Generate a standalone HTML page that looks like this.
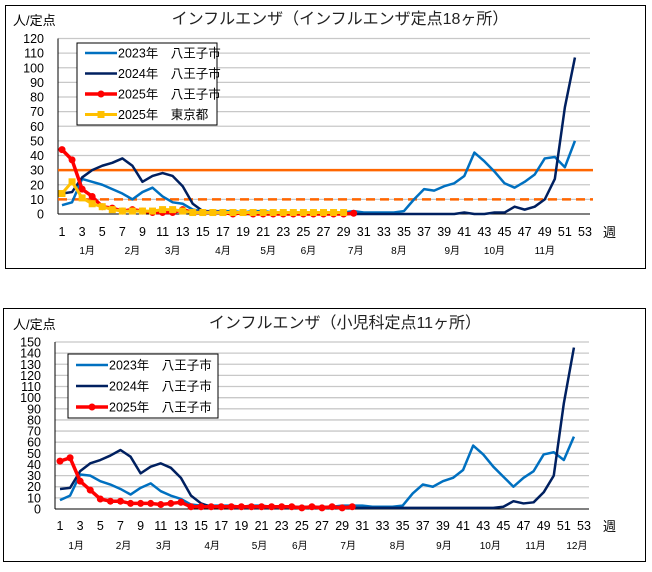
<!DOCTYPE html>
<html><head><meta charset="utf-8">
<style>
body{margin:0;background:#fff;width:652px;height:567px;overflow:hidden;font-family:"Liberation Sans","Noto Sans CJK JP",sans-serif;}
svg text{font-family:"Liberation Sans","Noto Sans CJK JP",sans-serif;}
</style></head>
<body>
<svg id="svg" width="652" height="567" xmlns="http://www.w3.org/2000/svg"></svg>
<script>
const weeks = Array.from({length:52},(_,i)=>i+1);
const weekTicks = [1,3,5,7,9,11,13,15,17,19,21,23,25,27,29,31,33,35,37,39,41,43,45,47,49,51,53];
const top2023 = [6,8,24,22,20,17,14,10,15,18,12,8,7,3,2,2,2,2,1,2,2,1,1,1,1,1,1,1,1,2,1,1,1,1,2,10,17,16,19,21,26,42,36,29,21,18,22,27,38,39,32,50];
const top2024 = [14,15,25,30,33,35,38,33,22,26,28,26,19,7,2,1,1,1,0,0,0,0,0,0,0,0,0,0,0,0,0,0,0,0,0,0,0,0,0,0,1,0,0,1,1,5,3,5,10,24,73,107];
const top2025 = [44,37,17,12,5,4,2,3,2,1,1,1,3,1,1,1,1,0,1,0,0,0,0,0,0,0,0,0,0,0.5];
const topTokyo = [14,22,11,7,5,3,2,2,2,2,3,3,2,1,1,1,1,1,1,1,1,1,1,1,1,1,1,1,1];
const bot2023 = [8,12,31,30,25,22,18,13,19,23,16,12,9,4,3,3,3,3,2,3,3,2,2,2,2,2,2,2,3,3,3,2,2,2,3,14,22,20,25,28,35,57,49,38,29,20,28,34,49,51,44,65];
const bot2024 = [18,19,34,41,44,48,53,47,32,38,41,37,28,12,5,2,2,1,1,1,1,1,1,1,1,1,1,1,1,1,1,1,1,1,1,1,1,1,1,1,1,1,1,1,2,7,5,6,15,30,95,145];
const bot2025 = [43,46,25,17,9,7,7,5,5,5,4,5,6,2,2,2,2,2,2,2,2,2,2,2,1,2,1,2,1,2];
const topMonths = ["1月","2月","3月","4月","5月","6月","7月","8月","9月","10月","11月"];
const topMonthWeeks = [3.5,8,12,17,21.5,25.5,30.2,34.5,39.8,44,49];
const botMonths = ["1月","2月","3月","4月","5月","6月","7月","8月","9月","10月","11月","12月"];
const botMonthWeeks = [2.6,7.3,11.3,16.1,20.8,24.8,29.6,34.5,39.1,43.7,48.2,52.3];

const NS="http://www.w3.org/2000/svg";
const svg=document.getElementById('svg');
function mk(tag,attrs,parent,txt){const e=document.createElementNS(NS,tag);for(const k in attrs)e.setAttribute(k,attrs[k]);if(txt!==undefined)e.textContent=txt;(parent||svg).appendChild(e);return e;}

function chart(cfg){
  const g=mk('g',{});
  
  
  const fr=mk('rect',{x:cfg.box[0],y:cfg.box[1],width:cfg.box[2],height:cfg.box[3],fill:'#fff',stroke:'#000','stroke-width':1},g);
  
  const X=w=>cfg.x1+(w-1)*(cfg.x53-cfg.x1)/52;
  const Y=v=>cfg.y0-(v/cfg.ymax)*(cfg.y0-cfg.ytop);
  for(let v=cfg.ystep;v<=cfg.ymax;v+=cfg.ystep){
    const l=mk('line',{x1:cfg.ax,x2:cfg.xr,y1:Y(v),y2:Y(v),stroke:'#c8c8c8','stroke-width':1.3},g);
    
  }
  for(let v=0;v<=cfg.ymax;v+=cfg.ystep){
    const t=mk('text',{x:cfg.ax-14,y:Y(v)+4.5,'text-anchor':'end','font-size':12.5,fill:'#000'},g,String(v));
    
  }
  mk('line',{x1:cfg.ax,x2:cfg.ax,y1:cfg.ytop,y2:cfg.y0,stroke:'#000'},g);
  mk('line',{x1:cfg.ax,x2:cfg.xr,y1:cfg.y0,y2:cfg.y0,stroke:'#000'},g);
  weekTicks.forEach(w=>{
    const t=mk('text',{x:X(w),y:cfg.tickY,'text-anchor':'middle','font-size':12.5},g,String(w));
    
  });
  cfg.months.forEach((m,i)=>{
    const t=mk('text',{x:X(cfg.monthWeeks[i]),y:cfg.monthY,'text-anchor':'middle','font-size':10},g,m);
    
  });
  (cfg.thresholds||[]).forEach(th=>{
    const l=mk('line',{x1:cfg.ax,x2:cfg.xr+3,y1:Y(th.v),y2:Y(th.v),stroke:'#ff6600','stroke-width':2.5},g);
    if(th.dash)l.setAttribute('stroke-dasharray','9,5');
    
  });
  cfg.series.forEach(s=>{
    const pts=s.data.map((v,i)=>X(i+1)+','+Y(v)).join(' ');
    const p=mk('polyline',{points:pts,fill:'none',stroke:s.color,'stroke-width':s.w,'stroke-linejoin':'round'},g);
    
    if(s.marker){
      s.data.forEach((v,i)=>{
        let m;
        if(s.marker==='circle')m=mk('circle',{cx:X(i+1),cy:Y(v),r:3.5,fill:s.color},g);
        else m=mk('rect',{x:X(i+1)-3.5,y:Y(v)-3.5,width:7,height:7,fill:s.color},g);
        
      });
    }
  });
  const L=cfg.legend;
  const lr=mk('rect',{x:L.x,y:L.y,width:L.w,height:L.h,fill:'#fff',stroke:'#000'},g);
  
  cfg.legendItems.forEach((it,i)=>{
    const yy=L.y+L.first+i*L.gap;
    mk('line',{x1:L.x+8,x2:L.x+40,y1:yy,y2:yy,stroke:it.color,'stroke-width':it.w},g);
    if(it.marker==='circle')mk('circle',{cx:L.x+24,cy:yy,r:3.5,fill:it.color},g);
    if(it.marker==='square')mk('rect',{x:L.x+20.5,y:yy-3.5,width:7,height:7,fill:it.color},g);
    const t=mk('text',{x:L.x+41,y:yy+4.5,'font-size':12.5},g,it.label);
    
  });
  const ti=mk('text',{x:cfg.titleX,y:cfg.titleY,'text-anchor':'middle','font-size':16,fill:'#222'},g,cfg.title);
  
  const yu=mk('text',{x:13,y:cfg.titleY+1,'font-size':13},g,'人/定点');
  
  const wk=mk('text',{x:603,y:cfg.tickY+1,'font-size':13},g,'週');
  
}

chart({name:'chart-influenza-18',box:[5.5,5.5,640,263],x1:62,x53:585,ax:58,xr:590,y0:214,ytop:38.5,ymax:120,ystep:10,
  tickY:236,monthY:254,months:topMonths,monthWeeks:topMonthWeeks,
  thresholds:[{v:30},{v:10,dash:true}],
  series:[
    {name:'line-2023',data:top2023,color:'#0070c0',w:2.5},
    {name:'line-2024',data:top2024,color:'#002060',w:2.5},
    {name:'line-2025',data:top2025,color:'#ff0000',w:3.5,marker:'circle'},
    {name:'line-tokyo-2025',data:topTokyo,color:'#ffc000',w:3,marker:'square'}],
  legend:{x:77,y:43,w:140,h:82,first:10,gap:20.5},
  legendItems:[{label:'2023年　八王子市',color:'#0070c0',w:2.5},{label:'2024年　八王子市',color:'#002060',w:2.5},
    {label:'2025年　八王子市',color:'#ff0000',w:3.5,marker:'circle'},{label:'2025年　東京都',color:'#ffc000',w:3,marker:'square'}],
  title:'インフルエンザ（インフルエンザ定点18ヶ所）',titleX:340,titleY:24});

chart({name:'chart-influenza-pediatric-11',box:[3.5,308.5,642,253],x1:60,x53:584,ax:55,xr:589,y0:509,ytop:342,ymax:150,ystep:10,
  tickY:530,monthY:549,months:botMonths,monthWeeks:botMonthWeeks,
  series:[
    {name:'line-2023',data:bot2023,color:'#0070c0',w:2.5},
    {name:'line-2024',data:bot2024,color:'#002060',w:2.5},
    {name:'line-2025',data:bot2025,color:'#ff0000',w:3.5,marker:'circle'}],
  legend:{x:68,y:354,w:150,h:64,first:11,gap:21},
  legendItems:[{label:'2023年　八王子市',color:'#0070c0',w:2.5},{label:'2024年　八王子市',color:'#002060',w:2.5},
    {label:'2025年　八王子市',color:'#ff0000',w:3.5,marker:'circle'}],
  title:'インフルエンザ（小児科定点11ヶ所）',titleX:345,titleY:328});
</script>
</body></html>
